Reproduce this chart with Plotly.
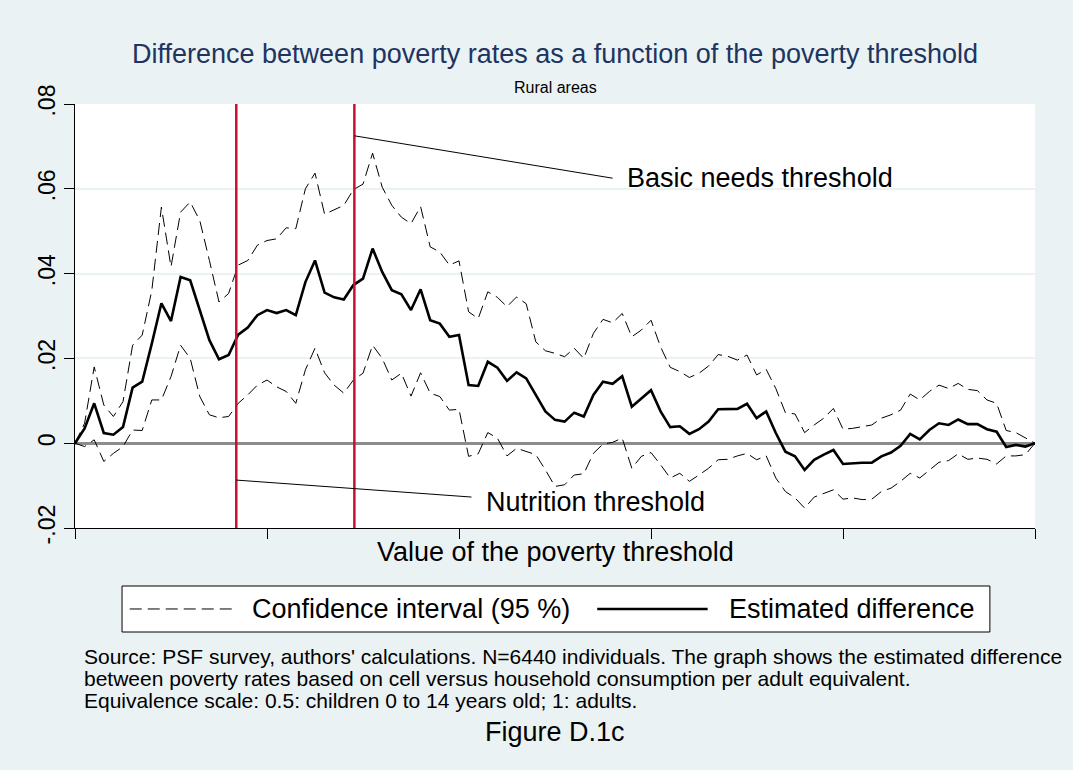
import plotly.graph_objects as go

# poverty threshold index (101 points)
threshold = list(range(101))

estimated = [
    0, 0.0035, 0.0094, 0.0024, 0.002, 0.0038, 0.0131, 0.0145, 0.0235, 0.033,
    0.0288, 0.0392, 0.0384, 0.0314, 0.0243, 0.0198, 0.0208, 0.0256, 0.0273, 0.0302,
    0.0314, 0.0307, 0.0314, 0.0302, 0.038, 0.0431, 0.0355, 0.0344, 0.0339, 0.0373,
    0.0388, 0.0459, 0.0404, 0.0361, 0.0351, 0.0314, 0.0363, 0.029, 0.0282, 0.0251,
    0.0255, 0.0137, 0.0135, 0.0192, 0.0178, 0.0147, 0.0167, 0.0153, 0.0114, 0.0075,
    0.0055, 0.0051, 0.0072, 0.0063, 0.0114, 0.0145, 0.014, 0.0158, 0.0086, 0.0106,
    0.0125, 0.0075, 0.0038, 0.004, 0.0022, 0.0033, 0.0051, 0.008, 0.008, 0.0081,
    0.0093, 0.0059, 0.0075, 0.0024, -0.002, -0.0031, -0.0063, -0.0039, -0.0027, -0.0016,
    -0.0049, -0.0047, -0.0046, -0.0046, -0.0031, -0.0022, -0.0006, 0.0022, 0.0009, 0.0031,
    0.0047, 0.0043, 0.0056, 0.0045, 0.0045, 0.0033, 0.0027, -0.0009, -0.0004, -0.0008,
    0,
]

ci_upper = [
    0, 0.0047, 0.018, 0.009, 0.0063, 0.0098, 0.0231, 0.0255, 0.036, 0.0557,
    0.0416, 0.0545, 0.0569, 0.0525, 0.0431, 0.0333, 0.0353, 0.042, 0.0431, 0.0467,
    0.0478, 0.0482, 0.0508, 0.0506, 0.06, 0.0637, 0.054, 0.0551, 0.0561, 0.0598,
    0.0611, 0.0684, 0.0604, 0.0561, 0.0533, 0.0518, 0.0558, 0.0463, 0.0451, 0.042,
    0.043, 0.031, 0.0294, 0.0357, 0.0344, 0.0322, 0.0345, 0.0329, 0.0239, 0.0218,
    0.0212, 0.0204, 0.0224, 0.02, 0.0259, 0.0292, 0.0284, 0.0306, 0.0251, 0.0267,
    0.029, 0.0227, 0.0179, 0.0169, 0.0155, 0.0165, 0.0182, 0.0209, 0.0205, 0.0196,
    0.0208, 0.0161, 0.0174, 0.0129, 0.0072, 0.0069, 0.0025, 0.0043, 0.0059, 0.0082,
    0.0033, 0.0035, 0.0039, 0.0043, 0.0059, 0.0067, 0.0078, 0.0116, 0.0102, 0.0122,
    0.0137, 0.0129, 0.0141, 0.0127, 0.0124, 0.0102, 0.0094, 0.003, 0.0025, 0.0012,
    0,
]

ci_lower = [
    0, -0.0008, 0.0008, -0.0043, -0.0024, -0.0008, 0.0031, 0.003, 0.0102, 0.0102,
    0.0157, 0.0231, 0.02, 0.011, 0.0067, 0.006, 0.0063, 0.0094, 0.0114, 0.0137,
    0.0149, 0.0133, 0.0122, 0.0094, 0.0173, 0.0224, 0.0166, 0.0137, 0.0118, 0.0149,
    0.0165, 0.0231, 0.02, 0.0149, 0.0165, 0.0111, 0.0166, 0.0118, 0.011, 0.0078,
    0.008, -0.0031, -0.0025, 0.0025, 0.0012, -0.003, -0.0012, -0.002, -0.0027, -0.0063,
    -0.0102, -0.0098, -0.0075, -0.0072, -0.0024, -0.0002, 0.0002, 0.0012, -0.0059, -0.0031,
    -0.0022, -0.0051, -0.0082, -0.0071, -0.009, -0.0075, -0.0059, -0.0039, -0.0038, -0.003,
    -0.0024, -0.0039, -0.003, -0.0082, -0.0114, -0.0129, -0.0153, -0.0127, -0.0118, -0.011,
    -0.0132, -0.0129, -0.0133, -0.0132, -0.0114, -0.0106, -0.009, -0.0071, -0.0082, -0.0063,
    -0.0045, -0.0041, -0.0025, -0.0038, -0.0035, -0.0038, -0.0049, -0.003, -0.003, -0.0027,
    0,
]

nutrition_x = 16.8
basic_needs_x = 29.1

y_ticks = [-0.02, 0, 0.02, 0.04, 0.06, 0.08]
y_tick_text = ["-.02", "0", ".02", ".04", ".06", ".08"]
x_ticks = [0, 20, 40, 60, 80, 100]

note_lines = [
    "Source: PSF survey, authors' calculations. N=6440 individuals. The graph shows the estimated difference",
    "between poverty rates based on cell versus household consumption per adult equivalent.",
    "Equivalence scale: 0.5: children 0 to 14 years old; 1: adults.",
]

BG = "#EAF2F3"
RED = "#C8102E"
FONT = "Liberation Sans, Arial, sans-serif"
DASH = "12px,6px"

fig = go.Figure()
fig.add_scatter(x=threshold, y=ci_upper, mode="lines", showlegend=False,
                line=dict(color="black", width=1, dash=DASH))
fig.add_scatter(x=threshold, y=ci_lower, mode="lines", showlegend=False,
                line=dict(color="black", width=1, dash=DASH))
fig.add_scatter(x=threshold, y=estimated, mode="lines", showlegend=False,
                line=dict(color="black", width=2.6))

# threshold markers
for xv in (nutrition_x, basic_needs_x):
    fig.add_shape(type="line", xref="x", yref="paper", x0=xv, x1=xv, y0=0, y1=1,
                  line=dict(color=RED, width=2.5))

# callouts
fig.add_shape(type="line", xref="x", yref="y", x0=basic_needs_x, y0=0.0725, x1=56.0, y1=0.0625,
              line=dict(color="black", width=1))
fig.add_annotation(x=57.3, y=0.0625, xref="x", yref="y", text="Basic needs threshold",
                   showarrow=False, xanchor="left", yanchor="middle", font=dict(size=27, color="black"))
fig.add_shape(type="line", xref="x", yref="y", x0=nutrition_x, y0=-0.0087, x1=41.3, y1=-0.0127,
              line=dict(color="black", width=1))
fig.add_annotation(x=42.6, y=-0.0139, xref="x", yref="y", text="Nutrition threshold",
                   showarrow=False, xanchor="left", yanchor="middle", font=dict(size=27, color="black"))

# titles
fig.add_annotation(x=0.5, y=1.119, xref="paper", yref="paper", yanchor="middle",
                   text="Difference between poverty rates as a function of the poverty threshold",
                   showarrow=False, font=dict(size=27, color="#1E3461"))
fig.add_annotation(x=0.5, y=1.040, xref="paper", yref="paper", yanchor="middle", text="Rural areas",
                   showarrow=False, font=dict(size=16, color="black"))
fig.add_annotation(x=0.5, y=-0.0566, xref="paper", yref="paper", yanchor="middle",
                   text="Value of the poverty threshold",
                   showarrow=False, font=dict(size=27, color="black"))

# legend box drawn by hand (Stata style)
fig.add_shape(type="rect", xref="paper", yref="paper", x0=0.049, x1=0.953, y0=-0.2453, y1=-0.1368,
              line=dict(color="black", width=1), fillcolor="white")
fig.add_shape(type="line", xref="paper", yref="paper", x0=0.057, x1=0.167, y0=-0.191, y1=-0.191,
              line=dict(color="black", width=1, dash=DASH))
fig.add_annotation(x=0.182, y=-0.191, xref="paper", yref="paper", text="Confidence interval (95 %)",
                   showarrow=False, xanchor="left", yanchor="middle", font=dict(size=27, color="black"))
fig.add_shape(type="line", xref="paper", yref="paper", x0=0.544, x1=0.659, y0=-0.191, y1=-0.191,
              line=dict(color="black", width=2.5))
fig.add_annotation(x=0.679, y=-0.191, xref="paper", yref="paper", text="Estimated difference",
                   showarrow=False, xanchor="left", yanchor="middle", font=dict(size=27, color="black"))

# note lines and caption
for i, line in enumerate(note_lines):
    fig.add_annotation(x=0.007, y=-0.3019 - i * 0.0519, xref="paper", yref="paper", text=line,
                       showarrow=False, xanchor="left", yanchor="middle",
                       font=dict(size=21, color="black"))
fig.add_annotation(x=0.5, y=-0.481, xref="paper", yref="paper", yanchor="middle", text="Figure D.1c",
                   showarrow=False, font=dict(size=27, color="black"))

fig.update_layout(
    width=1073, height=770,
    margin=dict(l=75, r=38, t=104, b=242),
    paper_bgcolor=BG, plot_bgcolor="white",
    font=dict(family=FONT, color="black"),
    showlegend=False,
    xaxis=dict(range=[0, 100], tickvals=x_ticks, showticklabels=False, ticks="outside", ticklen=10,
               tickcolor="black", showgrid=False, zeroline=False, showline=True, linecolor="black",
               linewidth=1),
    yaxis=dict(range=[-0.02, 0.08], tickvals=y_ticks, ticktext=y_tick_text, tickangle=-90,
               ticks="outside", ticklen=10, tickcolor="black", tickfont=dict(size=23),
               showgrid=True, gridcolor=BG, gridwidth=1.5,
               zeroline=True, zerolinecolor="#8C8C8C", zerolinewidth=2.5,
               showline=True, linecolor="black", linewidth=1),
)

fig.write_html("out.html", config={"displayModeBar": False},
               post_script="document.body.style.margin='0';")
